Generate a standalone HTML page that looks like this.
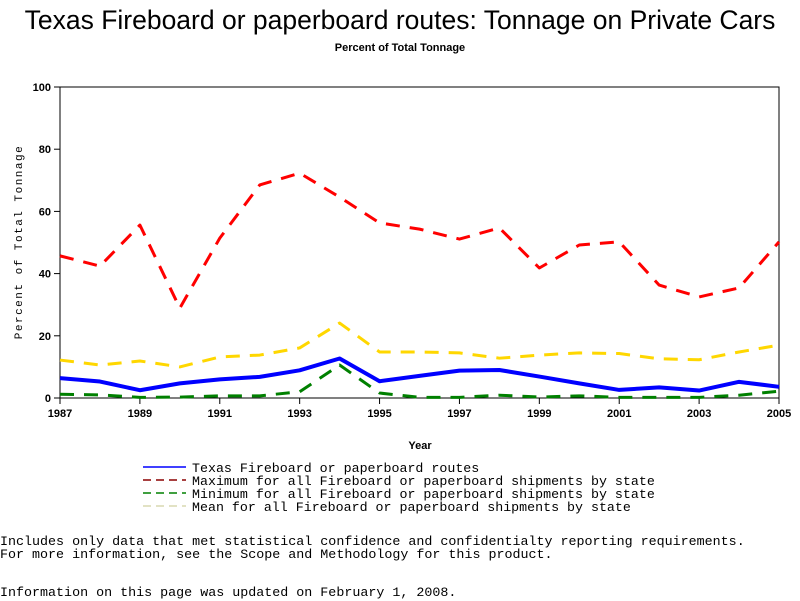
<!DOCTYPE html>
<html><head><meta charset="utf-8"><style>
body{margin:0;background:#fff;width:800px;height:600px;overflow:hidden;position:relative;font-family:"Liberation Sans",sans-serif}
.t{position:absolute;white-space:pre}
.mono{font-family:"Liberation Mono",monospace;font-size:13.35px}
</style></head><body>
<div class="t" style="left:0;width:800px;text-align:center;top:5px;font-size:26.5px">Texas Fireboard or paperboard routes: Tonnage on Private Cars</div>
<div class="t" style="left:0;width:800px;text-align:center;top:42px;font-size:11px;font-weight:bold">Percent of Total Tonnage</div>
<svg id="chart" width="800" height="600" style="position:absolute;left:0;top:0"></svg>
<div class="t mono" style="left:0;top:535px">Includes only data that met statistical confidence and confidentialty reporting requirements.</div>
<div class="t mono" style="left:0;top:548px">For more information, see the Scope and Methodology for this product.</div>
<div class="t mono" style="left:0;top:586px">Information on this page was updated on February 1, 2008.</div>
<script>
const years=[1987,1988,1989,1990,1991,1992,1993,1994,1995,1996,1997,1998,1999,2000,2001,2002,2003,2004,2005];
const texas=[6.4,5.3,2.5,4.7,6.0,6.8,8.9,12.7,5.4,7.1,8.8,9.0,6.9,4.7,2.6,3.4,2.4,5.2,3.6];
const maxVals=[45.7,42.4,55.6,28.9,51.4,68.5,72.3,64.6,56.3,54.3,51.1,54.7,41.8,49.2,50.2,36.3,32.5,35.4,50.2];
const minVals=[1.2,1.0,0.2,0.3,0.7,0.7,2.0,10.6,1.6,0.2,0.2,0.9,0.3,0.7,0.2,0.2,0.2,0.9,2.2];
const meanVals=[12.2,10.6,11.9,10.0,13.2,13.8,16.1,24.1,14.8,14.8,14.5,12.8,13.8,14.5,14.3,12.6,12.3,14.8,17.0];
const yTicks=[0,20,40,60,80,100];
const xTicks=[1987,1989,1991,1993,1995,1997,1999,2001,2003,2005];
const legendLabels=["Texas Fireboard or paperboard routes","Maximum for all Fireboard or paperboard shipments by state","Minimum for all Fireboard or paperboard shipments by state","Mean for all Fireboard or paperboard shipments by state"];

const L=60,R=779,T=87,B=398;
const x=v=>L+(v-1987)/(2005-1987)*(R-L);
const y=v=>B-v/100*(B-T);
const svg=document.getElementById('chart');
const NS='http://www.w3.org/2000/svg';
function mk(tag,attrs){const e=document.createElementNS(NS,tag);for(const k in attrs)e.setAttribute(k,attrs[k]);svg.appendChild(e);return e;}

const frame=mk('rect',{x:L,y:T,width:R-L,height:B-T,fill:'none',stroke:'#000','stroke-width':1});


yTicks.forEach(v=>{
  const tk=mk('line',{x1:L-6,x2:L,y1:y(v),y2:y(v),stroke:'#000'});
  
  
  const tx=mk('text',{x:L-9,y:y(v)+4,'text-anchor':'end','font-size':11,'font-weight':'bold','font-family':'Liberation Sans, sans-serif'});
  tx.textContent=v;
  
  
});
xTicks.forEach(v=>{
  const tk=mk('line',{x1:x(v),x2:x(v),y1:B,y2:B+6,stroke:'#000'});
  
  
  const tx=mk('text',{x:x(v),y:B+19,'text-anchor':'middle','font-size':11,'font-weight':'bold','font-family':'Liberation Sans, sans-serif'});
  tx.textContent=v;
  
  
});
const xt=mk('text',{x:420,y:449,'text-anchor':'middle','font-size':11,'font-weight':'bold','font-family':'Liberation Sans, sans-serif'});
xt.textContent='Year';


const yt=mk('text',{x:22,y:242,'text-anchor':'middle','font-size':11,'letter-spacing':'1.5','font-family':'Liberation Mono, monospace',transform:'rotate(-90 22 242)'});
yt.textContent='Percent of Total Tonnage';



const series=[
 {d:maxVals,c:'#ff0000',dash:'14 10',w:3,n:'series-maximum'},
 {d:meanVals,c:'#ffd700',dash:'14 10',w:3,n:'series-mean'},
 {d:minVals,c:'#008000',dash:'14 10',w:3,n:'series-minimum'},
 {d:texas,c:'#0000ff',dash:'',w:4,n:'series-texas'}
];
series.forEach(s=>{
  const p=mk('polyline',{points:s.d.map((v,i)=>x(years[i])+','+y(v)).join(' '),fill:'none',stroke:s.c,'stroke-width':s.w,'stroke-dasharray':s.dash,'stroke-linejoin':'round'});
  
  
});

const legendStyles=[{c:'#0000ff',dash:''},{c:'#8b0000',dash:'8 5'},{c:'#008000',dash:'8 5'},{c:'#d8d8b0',dash:'8 5'}];
legendLabels.forEach((lab,i)=>{
  const yy=468+i*13;
  const ln=mk('line',{x1:143,x2:186,y1:yy-1,y2:yy-1,stroke:legendStyles[i].c,'stroke-width':1.5,'stroke-dasharray':legendStyles[i].dash});
  
  
  const tx=mk('text',{x:192,y:yy+4,'font-size':13.3,'font-family':'Liberation Mono, monospace'});
  tx.textContent=lab;
  
  
});
</script>
</body></html>
